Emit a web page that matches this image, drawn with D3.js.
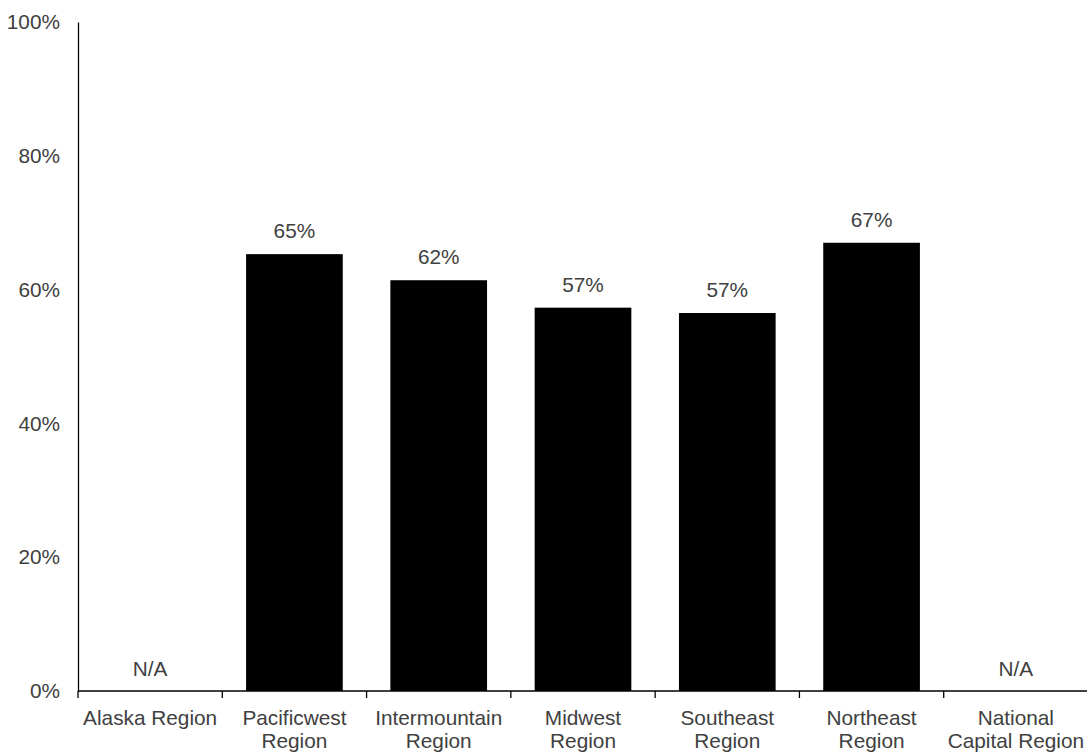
<!DOCTYPE html>
<html><head><meta charset="utf-8">
<script src="https://cdn.jsdelivr.net/npm/d3@7"></script>
<style>body{margin:0;background:#fff}text{font-family:Arial,"Liberation Sans",sans-serif;}</style>
</head><body>
<svg id="c" width="1087" height="753"></svg>
<script>
const categories = [["Alaska Region"],["Pacificwest","Region"],["Intermountain","Region"],["Midwest","Region"],["Southeast","Region"],["Northeast","Region"],["National","Capital Region"]];
const values = [null, 0.653, 0.614, 0.573, 0.565, 0.670, null];
const valueLabels = ["N/A","65%","62%","57%","57%","67%","N/A"];
const yTicks = [0,0.2,0.4,0.6,0.8,1.0];

(function(){
const svg = d3.select("#c");
const mLeft = 78, mRight = 1088, mTop = 22, mBottom = 691;
const fs = 20.8;
const ids = categories.map((c,i)=>i);
const x = d3.scaleBand().domain(ids).range([mLeft,mRight]).paddingInner(0.33).paddingOuter(0.165);
const y = d3.scaleLinear().domain([0,1]).range([mBottom,mTop]);
const txt = "#404040";

svg.selectAll("rect.bar").data(ids.filter(i=>values[i]!=null)).join("rect")
  .attr("x", i=>x(i)).attr("width", x.bandwidth())
  .attr("y", i=>y(values[i])).attr("height", i=>y(0)-y(values[i]))
  .attr("fill","#000");

svg.selectAll("text.vl").data(ids).join("text")
  .attr("x", i=>x(i)+x.bandwidth()/2)
  .attr("y", i=>values[i]==null ? y(0)-15 : y(values[i])-16)
  .attr("text-anchor","middle").attr("font-size",fs).attr("fill",txt)
  .text(i=>valueLabels[i]);

const yAxis = d3.axisLeft(y).tickValues(yTicks).tickFormat(d3.format(".0%")).tickSize(0).tickPadding(18);
const gy = svg.append("g").attr("transform",`translate(${mLeft},0)`).call(yAxis);
gy.select(".domain").attr("stroke","#000").attr("stroke-width",1.3);
gy.selectAll("text").attr("font-size",fs).attr("fill",txt).attr("font-family","Arial, Liberation Sans, sans-serif");

const boundaries = d3.range(0, categories.length).map(k=>x(k) - x.step()*x.paddingInner()/2);
svg.append("line").attr("x1",mLeft).attr("x2",mRight).attr("y1",mBottom).attr("y2",mBottom).attr("stroke","#000").attr("stroke-width",1.3);
svg.selectAll("line.tk").data(boundaries).join("line")
  .attr("x1",d=>d).attr("x2",d=>d).attr("y1",mBottom).attr("y2",mBottom+7).attr("stroke","#000").attr("stroke-width",1.3);

const cl = svg.selectAll("text.cl").data(ids).join("text")
  .attr("text-anchor","middle").attr("font-size",fs).attr("fill",txt);
cl.each(function(i){
  const t = d3.select(this);
  categories[i].forEach((line,k)=>{
    t.append("tspan").attr("x", x(i)+x.bandwidth()/2).attr("y", 725 + k*23).text(line);
  });
});
})();
</script>
</body></html>
